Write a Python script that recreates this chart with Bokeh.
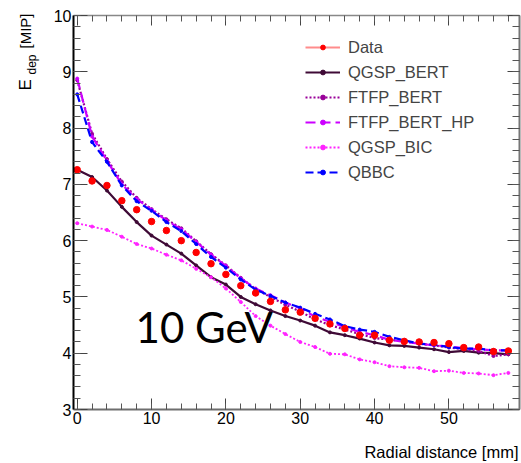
import math
from bokeh.plotting import figure
from bokeh.models import (Range1d, LinearAxis, SingleIntervalTicker, Legend,
                          LegendItem, Label, ColumnDataSource)
from bokeh.embed import file_html
from bokeh.resources import INLINE

# ---------------- data ----------------
radius = [0, 2, 4, 6, 8, 10, 12, 14, 16, 18, 20, 22, 24, 26, 28,
          30, 32, 34, 36, 38, 40, 42, 44, 46, 48, 50, 52, 54, 56, 58]

data = [7.26, 7.06, 6.98, 6.71, 6.55, 6.34, 6.18, 6.00, 5.79, 5.59,
        5.40, 5.20, 5.07, 4.92, 4.77, 4.73, 4.62, 4.52, 4.44, 4.32,
        4.32, 4.23, 4.21, 4.20, 4.19, 4.17, 4.10, 4.11, 4.03, 4.04]
data_err = [0.05, 0.02, 0.02, 0.02, 0.02, 0.02, 0.02, 0.02, 0.02, 0.02,
            0.02, 0.02, 0.02, 0.02, 0.02, 0.02, 0.02, 0.02, 0.02, 0.02,
            0.02, 0.02, 0.02, 0.02, 0.02, 0.02, 0.02, 0.02, 0.02, 0.02]

qgsp_bert = [7.26, 7.13, 6.89, 6.60, 6.33, 6.09, 5.93, 5.77, 5.56, 5.35,
             5.22, 5.00, 4.87, 4.76, 4.66, 4.58, 4.49, 4.37, 4.32, 4.26,
             4.19, 4.14, 4.13, 4.10, 4.07, 4.02, 4.04, 4.01, 4.00, 3.98]

ftfp_bert = [8.85, 7.90, 7.45, 7.05, 6.76, 6.56, 6.38, 6.22, 5.99, 5.76,
             5.56, 5.34, 5.14, 5.00, 4.86, 4.74, 4.60, 4.50, 4.42, 4.34,
             4.27, 4.24, 4.21, 4.17, 4.14, 4.10, 4.07, 4.04, 3.95, 3.98]

ftfp_bert_hp = [8.88, 7.85, 7.42, 7.00, 6.74, 6.55, 6.36, 6.20, 5.98, 5.75,
                5.55, 5.33, 5.15, 5.03, 4.90, 4.80, 4.65, 4.56, 4.46, 4.38,
                4.32, 4.24, 4.20, 4.17, 4.14, 4.12, 4.09, 4.07, 4.05, 4.05]

qgsp_bic = [6.31, 6.25, 6.19, 6.07, 5.94, 5.86, 5.75, 5.65, 5.50, 5.35,
            5.15, 4.91, 4.66, 4.49, 4.34, 4.20, 4.11, 3.99, 3.98, 3.89,
            3.84, 3.77, 3.75, 3.74, 3.68, 3.69, 3.65, 3.64, 3.61, 3.65]

qbbc = [8.60, 7.75, 7.40, 6.98, 6.70, 6.53, 6.33, 6.17, 5.94, 5.71,
        5.52, 5.31, 5.13, 5.02, 4.90, 4.81, 4.70, 4.60, 4.48, 4.42,
        4.38, 4.29, 4.23, 4.17, 4.15, 4.11, 4.08, 4.08, 4.05, 4.05]

x_limits = (-0.5, 59.5)
y_limits = (3, 10)
x_ticks_major = 10
y_ticks_major = 1

FONT = "Liberation Sans"

# ---------------- layout (pixels) ----------------
W, H = 521, 463
PX_L, PX_R, PX_T, PX_B = 73, 519, 15, 409   # plot box inside the canvas

sx = (PX_R - PX_L) / (x_limits[1] - x_limits[0])
sy = (PX_B - PX_T) / (y_limits[1] - y_limits[0])
xr = Range1d(x_limits[0] - PX_L / sx, x_limits[1] + (W - PX_R) / sx)
yr_ = Range1d(y_limits[0] - (H - PX_B) / sy, y_limits[1] + PX_T / sy)

p = figure(width=W, height=H, output_backend="svg", toolbar_location=None,
           x_range=xr, y_range=yr_, min_border=0,
           min_border_left=0, min_border_right=0, min_border_top=0,
           min_border_bottom=0)
p.outline_line_color = None
p.xgrid.grid_line_color = None
p.ygrid.grid_line_color = None
p.background_fill_color = "white"
p.border_fill_color = "white"


def style_axis(ax, major_in, minor_in, line_color, line_width, labels=True):
    ax.major_tick_out = 0
    ax.minor_tick_out = 0
    ax.major_tick_in = major_in
    ax.minor_tick_in = minor_in
    ax.axis_line_color = line_color
    ax.axis_line_width = line_width
    ax.major_tick_line_color = "#444444"
    ax.minor_tick_line_color = "#555555"
    ax.major_tick_line_width = 1
    ax.minor_tick_line_width = 1
    if labels:
        ax.major_label_text_font = FONT
        ax.major_label_text_font_size = "16px"
        ax.major_label_text_color = "black"
        ax.major_label_standoff = 2
    else:
        ax.major_label_text_font_size = "0px"
        ax.major_label_text_color = None
        ax.major_label_standoff = 0


xb = p.xaxis[0]
xb.ticker = SingleIntervalTicker(interval=x_ticks_major, num_minor_ticks=5)
xb.fixed_location = y_limits[0]
xb.bounds = x_limits
style_axis(xb, 11, 6, "#6e6e6e", 2)

yl = p.yaxis[0]
yl.ticker = SingleIntervalTicker(interval=y_ticks_major, num_minor_ticks=5)
yl.fixed_location = x_limits[0]
yl.bounds = y_limits
style_axis(yl, 14, 7, "black", 2)

xtop = LinearAxis(ticker=SingleIntervalTicker(interval=x_ticks_major,
                                              num_minor_ticks=5),
                  fixed_location=y_limits[1], bounds=x_limits)
style_axis(xtop, 10, 6, "#888888", 1.5, labels=False)
p.add_layout(xtop, "above")

yright = LinearAxis(ticker=SingleIntervalTicker(interval=y_ticks_major,
                                                num_minor_ticks=5),
                    fixed_location=x_limits[1], bounds=y_limits)
style_axis(yright, 12, 7, "#777777", 2, labels=False)
p.add_layout(yright, "right")

# ---------------- series ----------------
src = ColumnDataSource(dict(r=radius, data=data,
                            lo=[d - e for d, e in zip(data, data_err)],
                            hi=[d + e for d, e in zip(data, data_err)],
                            qgsp_bert=qgsp_bert, ftfp_bert=ftfp_bert,
                            ftfp_bert_hp=ftfp_bert_hp, qgsp_bic=qgsp_bic,
                            qbbc=qbbc))

series = [
    ("QGSP_BERT", "qgsp_bert", "#3f0a36", "solid", 2.2),
    ("FTFP_BERT", "ftfp_bert", "#990099", "2 2", 2.2),
    ("FTFP_BERT_HP", "ftfp_bert_hp", "#cc00ff", "10 5", 2.2),
    ("QGSP_BIC", "qgsp_bic", "#ff22ff", "2 2", 1.8),
    ("QBBC", "qbbc", "#0000ff", "8 4", 2.2),
]

curve_items = []
for name, col, color, dash, lw in series:
    ln = p.line("r", col, source=src, line_color=color, line_dash=dash,
                line_width=lw)
    sc = p.scatter("r", col, source=src, size=3, marker="circle",
                   fill_color=color, line_color=color)
    curve_items.append(LegendItem(label=name, renderers=[ln, sc]))

p.segment("r", "lo", "r", "hi", source=src, line_color="#ff6060",
          line_width=1.5)
# legend-only line for the data entry (a single undefined point draws nothing)
nan_src = ColumnDataSource(dict(x=[float("nan")], y=[float("nan")]))
dline = p.line("x", "y", source=nan_src, line_color="#ff8c8c", line_width=2)
dpts = p.scatter("r", "data", source=src, size=6.5, marker="circle",
                 fill_color="#ff0000", line_color="#ff0000")
items = [LegendItem(label="Data", renderers=[dline, dpts])] + curve_items

legend = Legend(items=items, location=(305, H - 184.5),
                label_text_font=FONT, label_text_font_size="16.5px",
                glyph_width=35, glyph_height=12, label_height=25,
                label_standoff=8, spacing=0, padding=0, margin=0,
                border_line_color=None, background_fill_alpha=0)
p.add_layout(legend, "center")

# ---------------- texts (screen units: from left / from bottom) ----------------
common = dict(text_font=FONT, text_color="black", x_units="screen",
              y_units="screen")
p.add_layout(Label(x=518, y=H - 451, text="Radial distance [mm]",
                   text_align="right", text_baseline="middle",
                   text_font_size="16.5px", **common))
p.add_layout(Label(x=25, y=H - 90, text="E", angle=math.pi / 2,
                   text_align="left", text_baseline="middle",
                   text_font_size="17px", **common))
p.add_layout(Label(x=31, y=H - 74, text="dep", angle=math.pi / 2,
                   text_align="left", text_baseline="middle",
                   text_font_size="12px", **common))
p.add_layout(Label(x=25, y=H - 48, text="[MIP]", angle=math.pi / 2,
                   text_align="left", text_baseline="middle",
                   text_font_size="15px", **common))

p.add_layout(Label(x=7.85, y=4.46, text="10 GeV", text_align="left",
                   text_baseline="alphabetic", text_font="Lato",
                   text_font_size="42px", text_color="black"))

open("out.html", "w").write(file_html(p, INLINE))
